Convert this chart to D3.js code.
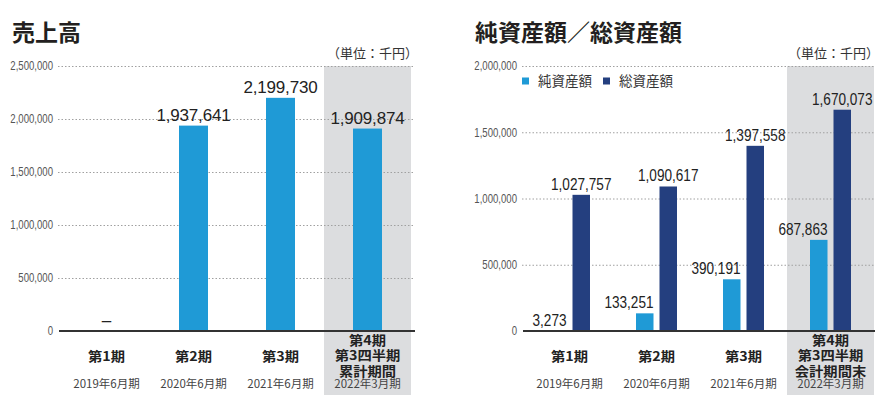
<!DOCTYPE html>
<html>
<head>
<meta charset="utf-8">
<script src="https://cdn.jsdelivr.net/npm/d3@7"></script>
<style>
body{margin:0;background:#fff;}
svg{display:block;}
.cjk{font-family:"Noto Sans CJK JP","Noto Sans",sans-serif;}
.ytick text{font-family:"Liberation Sans",sans-serif;font-size:12px;fill:#555;}
</style>
</head>
<body>
<div id="root"></div>
<script>
// data
var categories=['第1期','第2期','第3期','第4期'];
var salesCatLines=[['第1期'],['第2期'],['第3期'],['第4期','第3四半期','累計期間']];
var assetCatLines=[['第1期'],['第2期'],['第3期'],['第4期','第3四半期','会計期間末']];
var periods=['2019年6月期','2020年6月期','2021年6月期','2022年3月期'];
var sales=[null,1937641,2199730,1909874];
var netAssets=[3273,133251,390191,687863];
var totalAssets=[1027757,1090617,1397558,1670073];
var salesTicks=[0,500000,1000000,1500000,2000000,2500000];
var assetTicks=[0,500000,1000000,1500000,2000000];
var legendNames=['純資産額','総資産額'];

var W=885,H=406;
var lightBlue='#1f9ad6',navy='#243f7f',band='#dcdddf';

var svg=d3.select('#root').append('svg').attr('width',W).attr('height',H);

var y0=331,yTop=66,bandBottom=395;

// horizontal squeeze of a text selection (condensed look)
function squeeze(sel,sx){
	sel.each(function(){
		var t=d3.select(this);
		t.attr('x',(+t.attr('x')||0)/sx).attr('transform','scale('+sx+',1)');
	});
}

function drawFrame(g,x,y,ticks,gx0,gx1,title,titleX,unitX,catLines){
	// highlighted last period
	g.append('rect').attr('x',x(categories[3])).attr('y',yTop)
		.attr('width',x.bandwidth()).attr('height',bandBottom-yTop).attr('fill',band);

	var ax=g.append('g').attr('class','ytick').attr('transform','translate('+gx0+',0)')
		.call(d3.axisLeft(y).tickValues(ticks).tickSize(-(gx1-gx0)).tickPadding(5).tickFormat(d3.format(',')));
	ax.select('.domain').remove();
	ax.selectAll('line').attr('stroke','#a0a0a0').attr('stroke-dasharray','1.5,2')
		.attr('stroke-opacity',function(d){return d===0?0:1});
	squeeze(ax.selectAll('text'),0.8);

	g.append('text').attr('class','cjk').attr('x',titleX).attr('y',41)
		.attr('font-size',23).attr('font-weight','bold').attr('fill','#231f20').text(title);
	g.append('text').attr('class','cjk').attr('x',unitX).attr('y',58).attr('text-anchor','end')
		.attr('font-size',13).attr('fill','#333').text('（単位：千円）');

	categories.forEach(function(c,i){
		var cx=x(c)+x.bandwidth()/2;
		var lines=catLines[i];
		var start=361-(lines.length>1?16:0);
		lines.forEach(function(t,j){
			var tx=g.append('text').attr('class','cjk').attr('x',cx).attr('y',start+j*15.3)
				.attr('text-anchor','middle').attr('font-size',13).attr('font-weight','bold')
				.attr('fill','#222').text(t);
			squeeze(tx,1.1);
		});
		g.append('text').attr('class','cjk').attr('x',cx).attr('y',388)
			.attr('text-anchor','middle').attr('font-size',11.5).attr('fill','#444').text(periods[i]);
	});
	return function(){
		g.append('line').attr('x1',gx0+1).attr('x2',gx1).attr('y1',y(0)).attr('y2',y(0))
			.attr('stroke','#333').attr('stroke-width',2);
	};
}

// ---- left: sales
var gL=svg.append('g');
var xL=d3.scaleBand().domain(categories).range([63,411]).padding(0);
var yL=d3.scaleLinear().domain([0,2500000]).range([y0,yTop]);
var baseL=drawFrame(gL,xL,yL,salesTicks,58,415,'売上高',12,418,salesCatLines);
var bwL=29;
gL.selectAll('.sbar').data(sales).enter().filter(function(d){return d!==null}).append('rect')
	.attr('class','sbar')
	.attr('x',function(d){return xL(categories[sales.indexOf(d)])+xL.bandwidth()/2-bwL/2})
	.attr('y',function(d){return yL(d)}).attr('width',bwL)
	.attr('height',function(d){return yL(0)-yL(d)}).attr('fill',lightBlue);
baseL();
gL.selectAll('.slab').data(sales).enter().append('text').attr('class','slab')
	.attr('x',function(d,i){return xL(categories[i])+xL.bandwidth()/2})
	.attr('y',function(d){return yL(d||0)-5}).attr('text-anchor','middle')
	.attr('font-family','"Liberation Sans",sans-serif').attr('font-size',17).attr('letter-spacing',-0.2)
	.attr('fill','#222').text(function(d){return d===null?'–':d3.format(',')(d)});

// ---- right: assets
var gR=svg.append('g');
var xR=d3.scaleBand().domain(categories).range([526,874]).padding(0);
var yR=d3.scaleLinear().domain([0,2000000]).range([y0,yTop]);
var baseR=drawFrame(gR,xR,yR,assetTicks,522,875,'純資産額／総資産額',475,879,assetCatLines);
var bwR=17.5,off=11.75;
function cxR(i){return xR(categories[i])+xR.bandwidth()/2}
gR.selectAll('.nbar').data(netAssets).enter().append('rect').attr('class','nbar')
	.attr('x',function(d,i){return cxR(i)-off-bwR/2}).attr('y',function(d){return yR(d)})
	.attr('width',bwR).attr('height',function(d){return yR(0)-yR(d)}).attr('fill',lightBlue);
gR.selectAll('.tbar').data(totalAssets).enter().append('rect').attr('class','tbar')
	.attr('x',function(d,i){return cxR(i)+off-bwR/2}).attr('y',function(d){return yR(d)})
	.attr('width',bwR).attr('height',function(d){return yR(0)-yR(d)}).attr('fill',navy);
baseR();
var nlab=gR.selectAll('.nlab').data(netAssets).enter().append('text').attr('class','nlab')
	.attr('x',function(d,i){return cxR(i)-off+bwR/2}).attr('y',function(d){return yR(d)-5})
	.attr('text-anchor','end').attr('font-family','"Liberation Sans",sans-serif')
	.attr('font-size',17).attr('fill','#222').text(function(d){return d3.format(',')(d)});
squeeze(nlab,0.8);
var tlab=gR.selectAll('.tlab').data(totalAssets).enter().append('text').attr('class','tlab')
	.attr('x',function(d,i){return cxR(i)+off}).attr('y',function(d){return yR(d)-5})
	.attr('text-anchor','middle').attr('font-family','"Liberation Sans",sans-serif')
	.attr('font-size',17).attr('fill','#222').text(function(d){return d3.format(',')(d)});
squeeze(tlab,0.8);

// legend
var leg=gR.selectAll('.leg').data(legendNames).enter().append('g').attr('class','leg')
	.attr('transform',function(d,i){return 'translate('+(522+i*81)+',77.5)'});
leg.append('rect').attr('width',7).attr('height',7).attr('fill',function(d,i){return i?navy:lightBlue});
leg.append('text').attr('class','cjk').attr('x',16).attr('y',8.5).attr('font-size',13.5)
	.attr('fill','#333').text(function(d){return d});
</script>
</body>
</html>
